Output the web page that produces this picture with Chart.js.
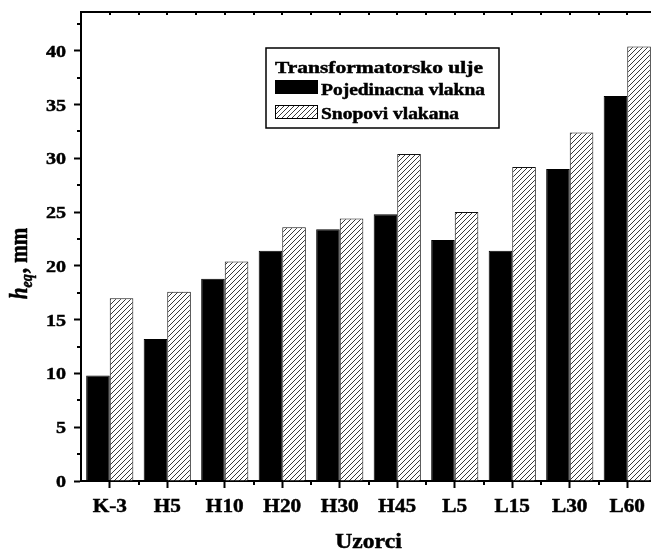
<!DOCTYPE html>
<html>
<head>
<meta charset="utf-8">
<script src="https://cdn.jsdelivr.net/npm/chart.js@4.4.0/dist/chart.umd.min.js"></script>
<style>
  html, body { margin: 0; padding: 0; background: #fff; overflow: hidden; }
  #wrap { width: 658px; height: 552px; }
</style>
</head>
<body>
<div id="wrap"><canvas id="chart" width="658" height="552"></canvas></div>
<script>
const categories = ["K-3", "H5", "H10", "H20", "H30", "H45", "L5", "L15", "L30", "L60"];
const singleFibers = [9.8, 13.2, 18.8, 21.4, 23.4, 24.8, 22.4, 21.4, 29.0, 35.8];
const fiberBundles = [17.0, 17.6, 20.4, 23.6, 24.4, 30.4, 25.0, 29.2, 32.4, 40.4];
const yTicks = [0, 5, 10, 15, 20, 25, 30, 35, 40];

const legendTitle = "Transformatorsko ulje";
const seriesNames = ["Pojedinacna vlakna", "Snopovi vlakana"];
const xTitle = "Uzorci";

const SERIF = '"Liberation Serif", "Times New Roman", serif';
const SX = 1.18; // glyphs are a bit wider than plain Times

// diagonal hatch used for the second series
function makeHatch() {
  const s = 5;
  const c = document.createElement("canvas");
  c.width = s;
  c.height = s;
  const g = c.getContext("2d");
  g.fillStyle = "#fff";
  g.fillRect(0, 0, s, s);
  g.strokeStyle = "#222";
  g.lineWidth = 0.9;
  g.beginPath();
  g.moveTo(0, s);
  g.lineTo(s, 0);
  g.moveTo(-1, 1);
  g.lineTo(1, -1);
  g.moveTo(s - 1, s + 1);
  g.lineTo(s + 1, s - 1);
  g.stroke();
  return g.createPattern(c, "repeat");
}
const hatch = makeHatch();

// fill plus a hairline stroke so the bold serif reads heavier
function heavyText(ctx, text, x, y) {
  ctx.lineWidth = 0.45;
  ctx.strokeStyle = "#000";
  ctx.fillText(text, x, y);
  ctx.strokeText(text, x, y);
}

// draw text widened horizontally by sx
function wideText(ctx, text, x, y, font, align, sx) {
  ctx.save();
  ctx.font = font;
  ctx.textAlign = align;
  ctx.translate(x, y);
  ctx.scale(sx, 1);
  heavyText(ctx, text, 0, 0);
  ctx.restore();
}

// draw text stretched to a given width, starting at x
function fitText(ctx, text, x, y, font, width) {
  ctx.save();
  ctx.font = font;
  const w = ctx.measureText(text).width;
  ctx.textAlign = "left";
  ctx.translate(x, y);
  ctx.scale(width / w, 1);
  heavyText(ctx, text, 0, 0);
  ctx.restore();
}

// frame, minor ticks, tick labels, legend box and axis titles
const decorations = {
  id: "decorations",
  afterDraw(chart) {
    const { ctx, chartArea: a, scales } = chart;
    const x = scales.x, y = scales.y;
    const half = (x.getPixelForValue(1) - x.getPixelForValue(0)) / 2;
    ctx.save();
    ctx.strokeStyle = "#000";
    ctx.fillStyle = "#000";

    // top and right frame lines
    ctx.lineWidth = 2;
    ctx.beginPath();
    ctx.moveTo(a.left - 1, a.top);
    ctx.lineTo(a.right, a.top);
    ctx.lineTo(a.right, a.bottom);
    ctx.stroke();

    // minor ticks
    ctx.beginPath();
    for (let v = 2.5; v < y.max; v += 5) {
      const py = Math.round(y.getPixelForValue(v));
      ctx.moveTo(a.left, py);
      ctx.lineTo(a.left - 4, py);
    }
    for (let i = 0; i < categories.length; i++) {
      const px = Math.round(x.getPixelForValue(i) + half);
      ctx.moveTo(px, a.bottom);
      ctx.lineTo(px, a.bottom + 4);
    }
    for (let i = 0; i < categories.length * 2; i++) {
      const px = Math.round(x.getPixelForValue(0) + i * half);
      ctx.moveTo(px, a.top);
      ctx.lineTo(px, a.top + 3);
    }
    ctx.stroke();

    // tick labels
    ctx.textBaseline = "alphabetic";
    y.ticks.forEach((t) => {
      const py = y.getPixelForValue(t.value);
      wideText(ctx, String(t.value), 66, py + 6, "bold 17px " + SERIF, "right", SX);
    });
    categories.forEach((c, i) => {
      const px = x.getPixelForValue(i);
      wideText(ctx, c, px, 512, "bold 18px " + SERIF, "center", SX);
    });

    // x axis title
    wideText(ctx, xTitle, (a.left + a.right) / 2, 548, "bold 20px " + SERIF, "center", SX);

    // legend
    const lx = 266, ly = 48, lw = 233, lh = 80;
    ctx.fillStyle = "#fff";
    ctx.fillRect(lx, ly, lw, lh);
    ctx.lineWidth = 1.5;
    ctx.strokeRect(lx, ly, lw, lh);
    ctx.fillStyle = "#000";
    fitText(ctx, legendTitle, 275, 73, "bold 17px " + SERIF, 208);
    const rows = [
      { y: 80, fill: "#000", label: seriesNames[0], base: 95, w: 164 },
      { y: 105, fill: hatch, label: seriesNames[1], base: 119, w: 138 }
    ];
    rows.forEach((r) => {
      ctx.fillStyle = r.fill;
      ctx.fillRect(275, r.y, 43, 14);
      ctx.lineWidth = 1;
      ctx.strokeRect(275.5, r.y + 0.5, 42, 13);
      ctx.fillStyle = "#000";
      fitText(ctx, r.label, 321, r.base, "bold 16px " + SERIF, r.w);
    });

    // y axis title: h_eq, mm
    ctx.save();
    ctx.translate(27, 264);
    ctx.rotate(-Math.PI / 2);
    ctx.scale(1, 1.2);
    ctx.textAlign = "left";
    const fH = "italic bold 21px " + SERIF;
    const fSub = "italic bold 14px " + SERIF;
    const fRest = "bold 21px " + SERIF;
    ctx.font = fH;
    const wH = ctx.measureText("h").width;
    ctx.font = fSub;
    const wSub = ctx.measureText("eq").width;
    ctx.font = fRest;
    const wRest = ctx.measureText(", mm").width;
    let cx = -(wH + wSub + wRest) / 2;
    ctx.font = fH;
    heavyText(ctx, "h", cx, 0);
    cx += wH;
    ctx.font = fSub;
    heavyText(ctx, "eq", cx, 4);
    cx += wSub + 1;
    ctx.font = fRest;
    heavyText(ctx, ", mm", cx, 0);
    ctx.restore();

    ctx.restore();
  }
};

new Chart(document.getElementById("chart"), {
  type: "bar",
  data: {
    labels: categories,
    datasets: [
      {
        label: seriesNames[0],
        data: singleFibers,
        backgroundColor: "#000",
        borderColor: "#000",
        borderWidth: 1
      },
      {
        label: seriesNames[1],
        data: fiberBundles,
        backgroundColor: hatch,
        borderColor: "#111",
        borderWidth: 1
      }
    ]
  },
  options: {
    responsive: false,
    animation: false,
    events: [],
    layout: { padding: { top: 12, right: 2, left: 0, bottom: 0 } },
    datasets: {
      bar: { categoryPercentage: 0.82, barPercentage: 1.0 }
    },
    plugins: {
      legend: { display: false },
      tooltip: { enabled: false }
    },
    scales: {
      x: {
        offset: true,
        grid: {
          offset: false,
          drawOnChartArea: false,
          tickLength: 7,
          tickWidth: 2,
          tickColor: "#000"
        },
        border: { color: "#000", width: 2 },
        ticks: { display: false },
        afterFit(scale) { scale.height = 71; }
      },
      y: {
        min: 0,
        max: 43.6,
        afterBuildTicks(scale) {
          scale.ticks = yTicks.map((v) => ({ value: v }));
        },
        grid: {
          drawOnChartArea: false,
          tickLength: 7,
          tickWidth: 2,
          tickColor: "#000"
        },
        border: { color: "#000", width: 2 },
        ticks: { display: false },
        afterFit(scale) { scale.width = 81; }
      }
    }
  },
  plugins: [decorations]
});
</script>
</body>
</html>
